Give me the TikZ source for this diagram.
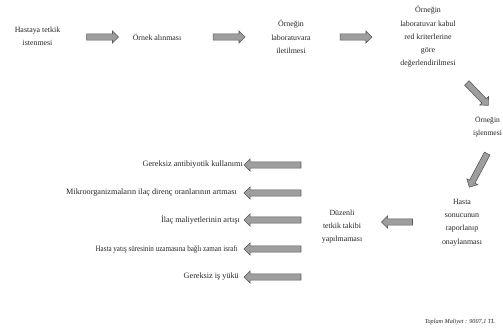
\documentclass[tikz,border=0pt]{standalone}
\usepackage{fontspec}
\setmainfont{Liberation Serif}
\usetikzlibrary{shapes.arrows}
\begin{document}
\begin{tikzpicture}[x=1pt,y=-1pt,
  txt/.style={align=center,font=\fontsize{7.9}{13.2}\selectfont,text=black!85,inner sep=0},
  rtxt/.style={anchor=east,font=\fontsize{8.2}{13.2}\selectfont,text=black!85,inner sep=0},
  fat/.style={single arrow,draw=black!65,fill=black!38,line width=0.6pt,minimum width=0pt,
    inner xsep=0pt,inner ysep=2.8pt,single arrow head extend=3pt,single arrow head indent=0pt}]
\useasboundingbox (0,0) rectangle (503,330);
\clip (0,0) rectangle (503,330);
\fill[white] (0,0) rectangle (503,330);
% top row
\node[txt] (t1) at (37.5,36) {Hastaya tetkik\\istenmesi};
\node[fat,minimum height=32pt] (a1) at (101,37) {};
\node[txt] (t2) at (157,37) {Örnek alınması};
\node[fat,minimum height=32pt] (a2) at (227.5,37) {};
\node[txt] (t3) at (291,37) {Örneğin\\laboratuvara\\iletilmesi};
\node[fat,minimum height=32pt] (a3) at (354.5,37) {};
\node[txt] (t4) at (428,37) {Örneğin\\laboratuvar kabul\\red kriterlerine\\göre\\değerlendirilmesi};
% right side
\node[fat,minimum height=31pt,rotate=-46] (a4) at (476.5,93) {};
\node[txt,font=\fontsize{7.6}{12.5}\selectfont] (t5) at (487.5,126.5) {Örneğin\\işlenmesi};
\node[fat,minimum height=38pt,rotate=-118] (a5) at (479,169) {};
\node[txt] (t6) at (462,222.5) {Hasta\\sonucunun\\raporlanıp\\onaylanması};
\node[fat,minimum height=31pt,rotate=180] (a6) at (398.5,222) {};
\node[txt] (t7) at (342,226.5) {Düzenli\\tetkik takibi\\yapılmaması};
% left list
\foreach \yy/\nm in {165/b1,193/b2,220/b3,249/b4,277/b5}{
  \node[fat,minimum height=57pt,rotate=180] (\nm) at (274,\yy) {};
}
\node[rtxt] (r1) at (243,165) {Gereksiz antibiyotik kullanımı};
\node[rtxt] (r2) at (237,193) {Mikroorganizmaların ilaç direnç oranlarının artması};
\node[rtxt] (r3) at (240,220) {İlaç maliyetlerinin artışı};
\node[rtxt] (r4) at (238,249) {\scalebox{0.86}[1]{Hasta yatış süresinin uzamasına bağlı zaman israfı}};
\node[rtxt] (r5) at (239,277) {Gereksiz iş yükü};
\node[rtxt,font=\fontsize{6.2}{8}\selectfont\itshape] (tot) at (495,322) {Toplam Maliyet : 9007,1 TL};
\end{tikzpicture}
\end{document}
